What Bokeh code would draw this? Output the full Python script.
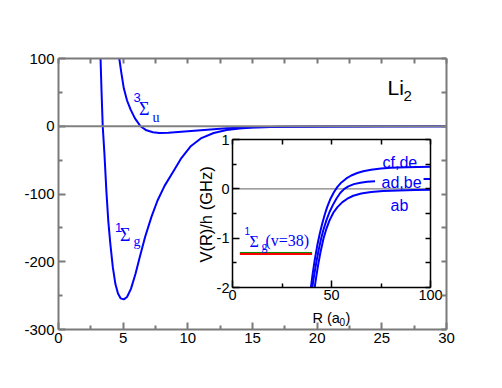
import math
from bokeh.plotting import figure
from bokeh.models import Range1d, LinearAxis, FixedTicker, Span, Label
from bokeh.embed import file_html
from bokeh.resources import INLINE

# ---------------- data ----------------
# main panel: V(R)/h in THz vs R in a0
singlet_R = [3.22, 3.25, 3.33, 3.42, 3.55, 3.70, 3.85, 4.00, 4.20, 4.40, 4.60, 4.80, 5.05,
             5.30, 5.60, 5.95, 6.30, 6.70, 7.20, 7.65, 8.20, 8.90, 9.50, 10.2, 11.0,
             12.0, 13.0, 14.0, 15.0, 17.0, 20.0, 25.0, 30.0]
singlet_V = [115, 100, 50, 0, -40, -95, -140, -172, -208, -233, -247, -254, -255.5,
             -252, -240, -218, -192, -163, -133, -110, -88, -66, -47, -30, -18,
             -10, -5.5, -3.2, -2.0, -0.9, -0.4, -0.1, -0.03]
triplet_R = [4.60, 4.70, 4.85, 5.05, 5.30, 5.57, 5.90, 6.34, 6.80, 7.30, 7.80, 8.50,
             9.50, 10.5, 11.5, 13.0, 15.0, 18.0, 22.0, 30.0]
triplet_V = [115, 100, 80, 56, 38, 25, 12, 0, -6, -8.8, -9.8, -9.5,
             -8.0, -6.5, -5.0, -3.0, -1.5, -0.6, -0.2, 0.0]

# inset: V(R)/h in GHz vs R in a0
cfde_R = [39.6, 40.5, 41.5, 42.8, 44.0, 45.3, 46.6, 47.8, 49.5, 51.2, 53.0, 55.0, 57.5,
          60.0, 63.0, 66.0, 70.0, 75.0, 80.0, 88.0, 100.0]
cfde_V = [-2.0, -1.72, -1.45, -1.15, -0.92, -0.71, -0.52, -0.37, -0.20, -0.07, 0.04, 0.13, 0.21,
          0.27, 0.32, 0.355, 0.385, 0.41, 0.425, 0.44, 0.45]
adbe_R = [40.3, 41.2, 42.3, 43.5, 44.8, 46.0, 47.5, 49.0, 50.8, 52.6, 54.5, 56.5, 58.5,
          61.3, 64.6, 68.0, 72.0]
adbe_V = [-2.0, -1.76, -1.50, -1.24, -1.0, -0.82, -0.63, -0.47, -0.32, -0.19, -0.08, 0.0, 0.05,
          0.095, 0.125, 0.143, 0.155]
adbe_tail_R = [96.5, 100.0]
adbe_tail_V = [0.2, 0.2]
ab_R = [41.5, 42.3, 43.3, 44.5, 46.0, 47.5, 49.0, 51.0, 53.0, 55.5, 58.0, 61.0, 65.0,
        70.0, 76.0, 84.0, 92.0, 100.0]
ab_V = [-2.0, -1.78, -1.53, -1.27, -1.0, -0.80, -0.64, -0.48, -0.37, -0.27, -0.20, -0.14, -0.095,
        -0.065, -0.045, -0.032, -0.025, -0.02]
level_R = [3.7, 40.2]
level_green_V = [-1.29, -1.29]
level_red_V = [-1.32, -1.32]

main_x_start, main_x_end = 0, 30
main_y_start, main_y_end = -300, 100
main_xticks = [0, 5, 10, 15, 20, 25, 30]
main_xtick_labels = ["0", "5", "10", "15", "20", "25", "30"]
main_xminor = [2.5, 7.5, 12.5, 17.5, 22.5, 27.5]
main_yticks = [-300, -200, -100, 0, 100]
main_ytick_labels = ["-300", "-200", "-100", "0", "100"]
main_yminor = [-250, -150, -50, 50]

inset_x_start, inset_x_end = 0, 100
inset_y_start, inset_y_end = -2, 1
inset_xticks = [0, 50, 100]
inset_xtick_labels = ["0", "50", "100"]
inset_xminor = [25, 75]
inset_yticks = [-2, -1, 0, 1]
inset_ytick_labels = ["-2", "-1", "0", "1"]
inset_yminor = [-1.5, -0.5, 0.5]

# ---------------- layout geometry (page pixels) ----------------
SANS = "Liberation Sans"
SERIF = "Liberation Serif"
BLUE = "#0000ff"
W, H = 500, 386
FL, FT, FW, FH = 58, 58, 388, 271          # main frame
IL, IT, IW, IH = 232, 139, 198, 148        # inset frame

# inset ranges expressed over the whole main frame
ixs = inset_x_start - (IL - FL) / IW * (inset_x_end - inset_x_start)
ixe = ixs + FW / IW * (inset_x_end - inset_x_start)
iye = inset_y_end + (IT - FT) / IH * (inset_y_end - inset_y_start)
iys = iye - FH / IH * (inset_y_end - inset_y_start)

p = figure(width=W, height=H, output_backend="svg", toolbar_location=None,
           x_range=Range1d(main_x_start, main_x_end),
           y_range=Range1d(main_y_start, main_y_end),
           x_axis_location=None, y_axis_location=None,
           min_border_left=FL, min_border_right=W - FL - FW,
           min_border_top=FT, min_border_bottom=H - FT - FH)
p.extra_x_ranges = {"ix": Range1d(ixs, ixe)}
p.extra_y_ranges = {"iy": Range1d(iys, iye)}
p.grid.visible = False
p.outline_line_color = None
p.background_fill_color = "white"
p.border_fill_color = "white"


def make_axis(ticks, labels, minor, color, width, mj, mn, fs, standoff, show, **kw):
    if show:
        ax = LinearAxis(ticker=FixedTicker(ticks=ticks, minor_ticks=minor),
                        major_label_overrides=dict(zip(ticks, labels)), **kw)
        ax.major_label_text_font_size = fs
        ax.major_label_text_font = SANS
        ax.major_label_text_color = "black"
        ax.major_label_standoff = standoff
        ax.minor_tick_in = mn
    else:
        # tick marks only, no labels
        ax = LinearAxis(ticker=FixedTicker(ticks=[], minor_ticks=sorted(ticks + minor)), **kw)
        ax.minor_tick_in = mn + 1
    ax.axis_line_color = color
    ax.axis_line_width = width
    ax.major_tick_line_color = color
    ax.major_tick_line_width = width
    ax.minor_tick_line_color = color
    ax.minor_tick_line_width = width
    ax.major_tick_in = mj
    ax.major_tick_out = 0
    ax.minor_tick_out = 0
    return ax


GRAY = "#7a7a7a"
p.add_layout(make_axis(main_xticks, main_xtick_labels, main_xminor, GRAY, 2, 7, 4, "15px", 3, True), "below")
p.add_layout(make_axis(main_xticks, main_xtick_labels, main_xminor, GRAY, 2, 7, 4, "15px", 3, False), "above")
p.add_layout(make_axis(main_yticks, main_ytick_labels, main_yminor, GRAY, 2, 7, 4, "15px", 4, True), "left")
p.add_layout(make_axis(main_yticks, main_ytick_labels, main_yminor, GRAY, 2, 7, 4, "15px", 4, False), "right")

p.add_layout(Span(location=0, dimension="width", line_color="#808080", line_width=2))
p.line(singlet_R, singlet_V, line_color=BLUE, line_width=2)
p.line(triplet_R, triplet_V, line_color=BLUE, line_width=2)

# ---------------- inset (drawn on the extra ranges) ----------------
ikw = dict(x_range_name="ix", y_range_name="iy")
p.line([inset_x_start, inset_x_end], [0, 0], line_color="#808080", line_width=1.2, **ikw)
p.line(level_R, level_red_V, line_color="#ff0000", line_width=2, **ikw)
p.line(level_R, level_green_V, line_color="#008b00", line_width=1, **ikw)
p.line(cfde_R, cfde_V, line_color=BLUE, line_width=2, **ikw)
p.line(adbe_R, adbe_V, line_color=BLUE, line_width=2, **ikw)
p.line(adbe_tail_R, adbe_tail_V, line_color=BLUE, line_width=2, **ikw)
p.line(ab_R, ab_V, line_color=BLUE, line_width=2, **ikw)

xb = (inset_x_start, inset_x_end)
yb = (inset_y_start, inset_y_end)
p.add_layout(make_axis(inset_xticks, inset_xtick_labels, inset_xminor, "black", 1.5, 7, 4, "14.5px", 2, True,
                       fixed_location=inset_y_start, bounds=xb, **ikw), "below")
p.add_layout(make_axis(inset_xticks, inset_xtick_labels, inset_xminor, "black", 1.5, 7, 4, "14.5px", 2, False,
                       fixed_location=inset_y_end, bounds=xb, **ikw), "above")
p.add_layout(make_axis(inset_yticks, inset_ytick_labels, inset_yminor, "black", 1.5, 7, 4, "14.5px", 3, True,
                       fixed_location=inset_x_start, bounds=yb, **ikw), "left")
p.add_layout(make_axis(inset_yticks, inset_ytick_labels, inset_yminor, "black", 1.5, 7, 4, "14.5px", 3, False,
                       fixed_location=inset_x_end, bounds=yb, **ikw), "right")


# ---------------- texts ----------------
def mx(px):
    return main_x_start + (px - FL) * (main_x_end - main_x_start) / FW


def my(py):
    return main_y_end - (py - FT) * (main_y_end - main_y_start) / FH


def ix(px):
    return inset_x_start + (px - IL) * (inset_x_end - inset_x_start) / IW


def iy(py):
    return inset_y_end - (py - IT) * (inset_y_end - inset_y_start) / IH


def mlabel(text, px, py, size, font=SANS, color=BLUE, angle=0.0, align="left",
           baseline="alphabetic"):
    p.add_layout(Label(x=mx(px), y=my(py), text=text, text_font=font,
                       text_font_size=size, text_color=color, angle=angle,
                       text_align=align, text_baseline=baseline))


def ilabel(text, px, py, size, font=SANS, color=BLUE):
    p.add_layout(Label(x=ix(px), y=iy(py), text=text, text_font=font,
                       text_font_size=size, text_color=color,
                       text_align="left", text_baseline="alphabetic", **ikw))


mlabel("Li", 387, 87, "21px", color="black")
mlabel("2", 403, 95, "15px", color="black")
mlabel("3", 133, 97, "13px")
mlabel("\u03a3", 138.5, 108, "18px", font=SERIF)
mlabel("u", 152, 117, "14px", font=SERIF)
mlabel("1", 114.5, 227, "13px")
mlabel("\u03a3", 119.5, 234.5, "18px", font=SERIF)
mlabel("g", 133, 241, "14px", font=SERIF)
# main axis labels
mlabel("R (a", 232, 362, "14.5px", color="black")
mlabel("0", 259, 366, "10px", color="black")
mlabel(")", 265, 362, "14.5px", color="black")
mlabel("V(R)/h (THz)", 10.5, 173, "16px", color="black", angle=math.pi / 2,
       align="center", baseline="middle")
# inset axis labels
mlabel("R (a", 312, 317, "14.5px", color="black")
mlabel("0", 339, 321, "10px", color="black")
mlabel(")", 345, 317, "14.5px", color="black")
mlabel("V(R)/h (GHz)", 205, 214, "16.5px", color="black", angle=math.pi / 2,
       align="center", baseline="middle")
# inset texts
ilabel("cf,de", 382, 162, "16px")
ilabel("ad,be", 381, 182, "16px")
ilabel("ab", 390, 205, "16px")
ilabel("1", 244, 230, "10px")
ilabel("\u03a3", 249, 240.5, "16px", font=SERIF)
ilabel("g", 261, 245.5, "12px", font=SERIF)
ilabel("(v=38)", 265, 239.5, "16px", font=SERIF)

open("out.html", "w").write(file_html(p, INLINE))
